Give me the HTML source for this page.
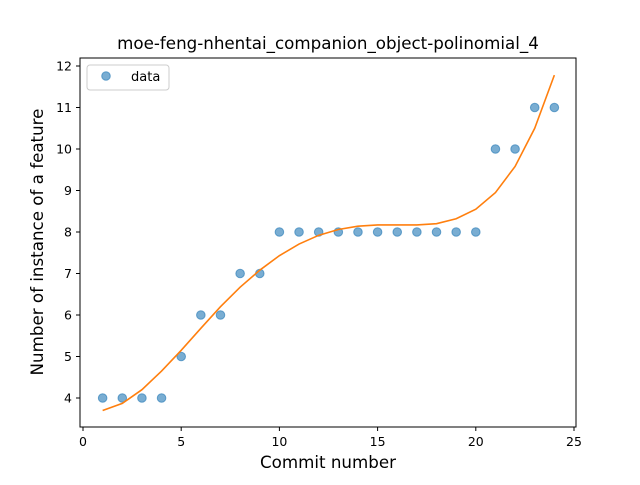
<!DOCTYPE html>
<html><head><meta charset="utf-8"><style>
body{margin:0;background:#fff}
svg text{font-family:"DejaVu Sans","Liberation Sans",sans-serif;fill:#000}
</style></head><body>
<svg id="chart" width="640" height="480">
<rect x="0" y="0" width="640" height="480" fill="#fff"/>
<text x="328" y="49" font-size="16.7" text-anchor="middle">moe-feng-nhentai_companion_object-polinomial_4</text>
<g id="plot"></g>
<rect x="80" y="58" width="496" height="369" fill="none" stroke="#000" stroke-width="1"/>
<text x="328" y="468" font-size="16.7" text-anchor="middle">Commit number</text>
<text transform="translate(43,242) rotate(-90)" font-size="16.7" text-anchor="middle">Number of instance of a feature</text>
<g>
<rect x="87" y="65" width="82" height="25" rx="3" fill="#fff" stroke="#ccc"/>
<circle cx="106" cy="76" r="4.3" fill="#1f77b4" fill-opacity="0.6" stroke="#1f77b4" stroke-opacity="0.6"/>
<text x="131" y="81" font-size="13">data</text>
</g>
</svg>
<script>
const commits=[1,2,3,4,5,6,7,8,9,10,11,12,13,14,15,16,17,18,19,20,21,22,23,24];
const counts=[4,4,4,4,5,6,6,7,7,8,8,8,8,8,8,8,8,8,8,8,10,10,11,11];
const fitValues=[3.7,3.87,4.2,4.65,5.15,5.68,6.2,6.67,7.08,7.43,7.71,7.92,8.06,8.14,8.17,8.17,8.17,8.2,8.32,8.55,8.95,9.58,10.5,11.78];
const xTicks=[0,5,10,15,20,25];
const yTicks=[4,5,6,7,8,9,10,11,12];
const NS='http://www.w3.org/2000/svg';
const xs=v=>83+(v-0)*19.64;
const ys=v=>398-(v-4)*41.5;
const g=document.getElementById('plot');
function mk(t,a){const e=document.createElementNS(NS,t);for(const k in a)e.setAttribute(k,a[k]);g.appendChild(e);return e;}
xTicks.forEach(t=>{
 const l=mk('line',{x1:xs(t),x2:xs(t),y1:427,y2:431,stroke:'#000'});
 
 
 const tx=mk('text',{x:xs(t),y:446,'font-size':12.5,'text-anchor':'middle'});tx.textContent=t;
 
 
});
yTicks.forEach(t=>{
 const l=mk('line',{x1:76,x2:80,y1:ys(t),y2:ys(t),stroke:'#000'});
 
 
 const tx=mk('text',{x:72,y:ys(t)+4.5,'font-size':12.5,'text-anchor':'end'});tx.textContent=t;
 
 
});
commits.forEach((c,i)=>{
 const p=mk('circle',{cx:xs(c),cy:ys(counts[i]),r:4.3,fill:'#1f77b4','fill-opacity':0.6,stroke:'#1f77b4','stroke-opacity':0.6});
 
 
});
const line=mk('polyline',{points:commits.map((c,i)=>xs(c)+','+ys(fitValues[i])).join(' '),fill:'none',stroke:'#ff7f0e','stroke-width':1.6});


</script>
</body></html>
